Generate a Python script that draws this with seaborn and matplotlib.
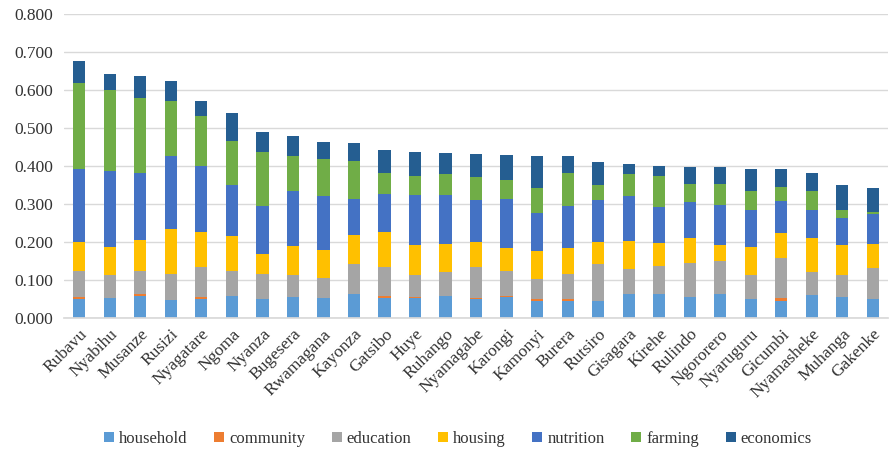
import matplotlib
matplotlib.use("Agg")
import matplotlib.pyplot as plt
from matplotlib.patches import Patch
import numpy as np
import pandas as pd
import seaborn as sns

districts = ["Rubavu", "Nyabihu", "Musanze", "Rusizi", "Nyagatare", "Ngoma", "Nyanza",
             "Bugesera", "Rwamagana", "Kayonza", "Gatsibo", "Huye", "Ruhango", "Nyamagabe",
             "Karongi", "Kamonyi", "Burera", "Rutsiro", "Gisagara", "Kirehe", "Rulindo",
             "Ngororero", "Nyaruguru", "Gicumbi", "Nyamasheke", "Muhanga", "Gakenke"]

household = [0.050, 0.053, 0.058, 0.048, 0.049, 0.057, 0.050, 0.054, 0.052, 0.063, 0.052, 0.052,
             0.057, 0.050, 0.054, 0.045, 0.045, 0.045, 0.063, 0.062, 0.056, 0.062, 0.049, 0.045,
             0.060, 0.054, 0.051]
community = [0.005, 0.000, 0.005, 0.000, 0.006, 0.000, 0.000, 0.000, 0.000, 0.000, 0.006, 0.003,
             0.000, 0.003, 0.003, 0.004, 0.004, 0.000, 0.000, 0.000, 0.000, 0.000, 0.000, 0.008,
             0.000, 0.000, 0.000]
education = [0.069, 0.060, 0.061, 0.069, 0.078, 0.067, 0.067, 0.059, 0.053, 0.079, 0.076, 0.059,
             0.065, 0.082, 0.067, 0.054, 0.068, 0.098, 0.067, 0.074, 0.089, 0.089, 0.065, 0.105,
             0.062, 0.059, 0.081]
housing = [0.077, 0.075, 0.080, 0.116, 0.093, 0.092, 0.051, 0.077, 0.075, 0.077, 0.092, 0.079,
           0.074, 0.066, 0.059, 0.073, 0.066, 0.058, 0.073, 0.062, 0.066, 0.040, 0.072, 0.066,
           0.089, 0.078, 0.062]
nutrition = [0.190, 0.199, 0.178, 0.192, 0.173, 0.133, 0.127, 0.143, 0.140, 0.094, 0.099, 0.130,
             0.128, 0.110, 0.129, 0.101, 0.112, 0.110, 0.117, 0.094, 0.094, 0.107, 0.099, 0.083,
             0.074, 0.072, 0.080]
farming = [0.228, 0.213, 0.196, 0.147, 0.133, 0.117, 0.143, 0.092, 0.099, 0.101, 0.056, 0.050,
           0.054, 0.060, 0.051, 0.066, 0.086, 0.040, 0.059, 0.081, 0.047, 0.054, 0.048, 0.038,
           0.048, 0.021, 0.006]
economics = [0.057, 0.043, 0.058, 0.051, 0.039, 0.073, 0.052, 0.055, 0.045, 0.047, 0.062, 0.065,
             0.056, 0.060, 0.066, 0.082, 0.044, 0.059, 0.025, 0.027, 0.045, 0.045, 0.058, 0.046,
             0.049, 0.066, 0.062]

components = ["household", "community", "education", "housing", "nutrition", "farming", "economics"]
colors = ["#5B9BD5", "#ED7D31", "#A5A5A5", "#FFC000", "#4472C4", "#70AD47", "#255E91"]

df = pd.DataFrame({"district": districts, "household": household, "community": community,
                   "education": education, "housing": housing, "nutrition": nutrition,
                   "farming": farming, "economics": economics})
cum = df[components].cumsum(axis=1)

sns.set_theme(style="white")
plt.rcParams["font.family"] = ["Liberation Serif", "DejaVu Serif"]

fig = plt.figure(figsize=(8.89, 4.54), dpi=100)
ax = fig.add_axes([0.072, 0.2996, 0.927, 0.6696])

# Stack by drawing cumulative totals from the top layer down
for comp, col in reversed(list(zip(components, colors))):
    sns.barplot(x=df["district"], y=cum[comp], color=col, width=0.4,
                errorbar=None, ax=ax, saturation=1, linewidth=0)

ax.set_ylim(0, 0.8)
ax.set_xlim(-0.5, len(districts) - 0.5)
ax.set_yticks(np.arange(0, 0.81, 0.1))
ax.set_yticklabels([f"{v:.3f}" for v in np.arange(0, 0.81, 0.1)])
ax.yaxis.grid(True, color="#D9D9D9", linewidth=1)
ax.set_axisbelow(True)
for s in ["top", "right", "left"]:
    ax.spines[s].set_visible(False)
ax.spines["bottom"].set_color("#D9D9D9")
ax.set_xlabel("")
ax.set_ylabel("")
ax.tick_params(axis="both", length=0, labelsize=12.5, colors="#333333")
ax.tick_params(axis="y", pad=8)
plt.setp(ax.get_xticklabels(), rotation=45, ha="right", rotation_mode="anchor")
ax.tick_params(axis="x", pad=6)

handles = [Patch(facecolor=c, edgecolor="none") for c in colors]
fig.legend(handles, components, loc="center", bbox_to_anchor=(0.515, 0.033), ncol=7,
           frameon=False, fontsize=12, handlelength=0.6, handleheight=0.6,
           handletextpad=0.3, columnspacing=1.6, labelcolor="#333333")

fig.savefig("out.png", dpi=100)
